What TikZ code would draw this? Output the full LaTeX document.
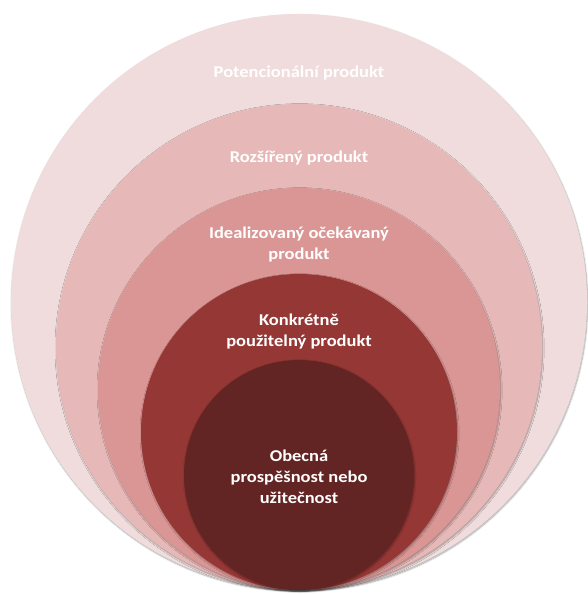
\documentclass[tikz,border=0pt]{standalone}
\usepackage{fontspec}
\setmainfont{Carlito}[FakeStretch=1.12]
\usetikzlibrary{shadows.blur}
\definecolor{ringA}{HTML}{F0DCDC}
\definecolor{ringB}{HTML}{E6B9B8}
\definecolor{ringC}{HTML}{D99694}
\definecolor{ringD}{HTML}{953735}
\definecolor{ringE}{HTML}{632523}
\begin{document}
\begin{tikzpicture}
  [x=1pt,y=-1pt,
  ring/.style={circle, inner sep=0pt,
    blur shadow={shadow xshift=0.6pt, shadow yshift=-1.2pt, shadow blur radius=1.6pt, shadow blur steps=6, shadow opacity=35}},
  caption/.style={text=white, font=\bfseries\fontsize{16.5}{21}\selectfont, align=center}]
  \useasboundingbox (0,0) rectangle (587,594);
  \def \bottom {590}
  \def \mid {299}

  % rings, all touching at the bottom
  \foreach \name/\r/\col in {potential/288/ringA, extended/243/ringB, ideal/201/ringC, actual/158/ringD, core/115/ringE}
  {
    \node[ring, fill=\col, minimum size={2*\r*1pt}] (\name) at (\mid, \bottom-\r) {};
  }

  \node[caption] (potentialtext) at (\mid,73) {Potencionální produkt};
  \node[caption] (extendedtext) at (\mid,158) {Rozšířený produkt};
  \node[caption] (idealtext) at (\mid,245) {Idealizovaný očekávaný\\produkt};
  \node[caption] (actualtext) at (\mid,332) {Konkrétně\\použitelný produkt};
  \node[caption] (coretext) at (\mid,477) {Obecná\\prospěšnost nebo\\užitečnost};
\end{tikzpicture}
\end{document}
